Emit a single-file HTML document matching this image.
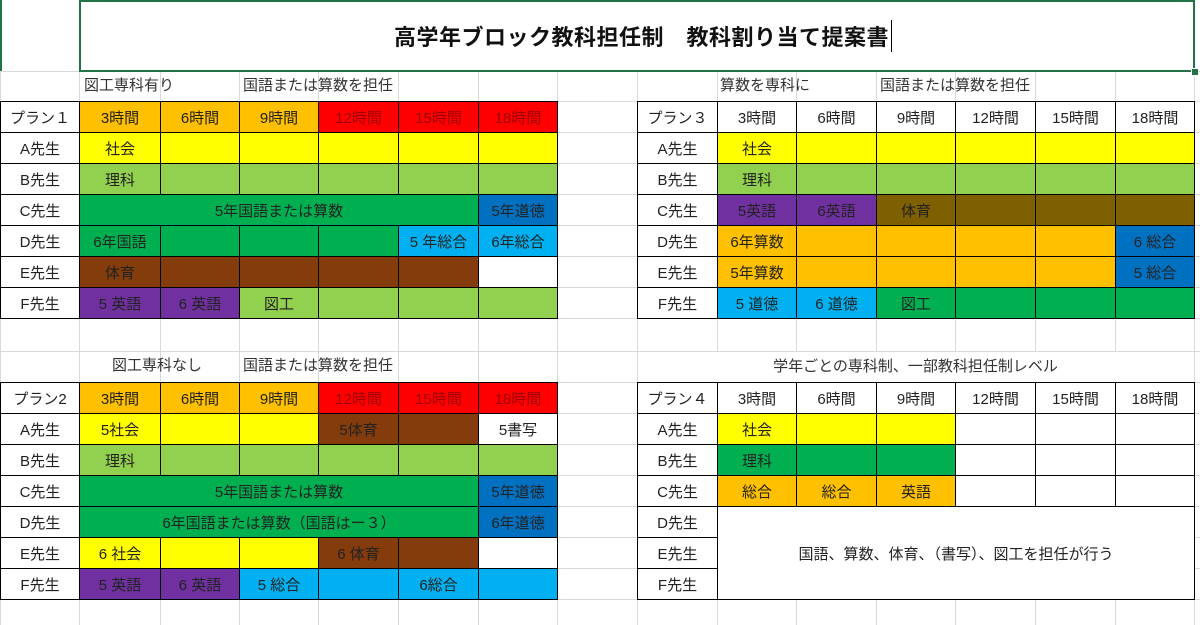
<!DOCTYPE html>
<html><head><meta charset="utf-8">
<style>
html,body{margin:0;padding:0;background:#fff;}
#sheet{position:relative;width:1200px;height:625px;overflow:hidden;font-family:"Liberation Sans","Noto Sans CJK JP",sans-serif;color:#222;}
.c{position:absolute;box-sizing:border-box;display:flex;align-items:center;justify-content:center;font-size:15px;white-space:nowrap;}
.g{position:absolute;background:#d9d9d9;}
.t{position:absolute;font-size:15px;white-space:nowrap;line-height:30px;color:#333;}
</style></head>
<body>
<div id="sheet"></div>
<script>
const X=[0,79,160,239,318,398,478,557,637,717,796,876,955,1035,1115,1194];
const YU=[71,101,132,163,194,225,256,287,318];
const YL=[351,382,413,444,475,506,537,568,599];
const GRIDY=[71,101,132,163,194,225,256,287,318,351,382,413,444,475,506,537,568,599];
const COL={o:'#FFC000',r:'#FF0000',y:'#FFFF00',lg:'#92D050',g:'#00B050',db:'#0070C0',lb:'#00B0F0',br:'#843C0C',ol:'#7F6000',p:'#7030A0',w:'#FFFFFF'};
const sheet=document.getElementById('sheet');

// background grid
for(const x of X){
  const d=document.createElement('div');d.className='g';
  
  
  d.style.cssText=`left:${x}px;top:71px;width:1px;height:554px`;sheet.appendChild(d);
}
for(const y of GRIDY){
  const d=document.createElement('div');d.className='g';
  
  
  d.style.cssText=`left:0;top:${y}px;width:1200px;height:1px`;sheet.appendChild(d);
}

function cell(x0,x1,y0,y1,bg,text,name,border,color){
  const d=document.createElement('div');d.className='c';
  
  
  d.style.left=x0+'px';d.style.top=y0+'px';
  d.style.width=(x1-x0+1)+'px';d.style.height=(y1-y0+1)+'px';
  d.style.background=bg;
  d.style.border=border===false?'none':'1px solid #000';
  if(color)d.style.color=color;
  d.textContent=text||'';sheet.appendChild(d);
}
function label(x,y,text,name){
  const d=document.createElement('div');d.className='t';
  
  
  d.style.left=x+'px';d.style.top=y+'px';d.textContent=text;sheet.appendChild(d);
}

// row spec: array of [span, colorKey, text]
function table(c0,Y,planName,headCols,rows,prefix){
  const hours=['3時間','6時間','9時間','12時間','15時間','18時間'];
  cell(X[c0],X[c0+1],Y[1],Y[2],'#fff',planName,prefix+'-plan-label');
  for(let i=0;i<6;i++){
    const k=headCols[i];
    cell(X[c0+1+i],X[c0+2+i],Y[1],Y[2],COL[k],hours[i],prefix+'-hour-header',true,k==='r'?'#9a0000':null);
  }
  const teachers=['A先生','B先生','C先生','D先生','E先生','F先生'];
  for(let r=0;r<6;r++){
    cell(X[c0],X[c0+1],Y[2+r],Y[3+r],'#fff',teachers[r],prefix+'-teacher-label');
    let c=c0+1;
    for(const [span,k,txt] of rows[r]){
      cell(X[c],X[c+span],Y[2+r],Y[3+r],COL[k],txt,prefix+'-assignment-cell');
      c+=span;
    }
  }
}

table(0,YU,'プラン１',['o','o','o','r','r','r'],[
 [[1,'y','社会'],[1,'y',''],[1,'y',''],[1,'y',''],[1,'y',''],[1,'y','']],
 [[1,'lg','理科'],[1,'lg',''],[1,'lg',''],[1,'lg',''],[1,'lg',''],[1,'lg','']],
 [[5,'g','5年国語または算数'],[1,'db','5年道徳']],
 [[1,'g','6年国語'],[1,'g',''],[1,'g',''],[1,'g',''],[1,'lb','5 年総合'],[1,'lb','6年総合']],
 [[1,'br','体育'],[1,'br',''],[1,'br',''],[1,'br',''],[1,'br',''],[1,'w','']],
 [[1,'p','5 英語'],[1,'p','6 英語'],[1,'lg','図工'],[1,'lg',''],[1,'lg',''],[1,'lg','']]
],'plan1');
label(84,71,'図工専科有り','plan1-subtitle');
label(243,71,'国語または算数を担任','plan1-note');

table(8,YU,'プラン３',['w','w','w','w','w','w'],[
 [[1,'y','社会'],[1,'y',''],[1,'y',''],[1,'y',''],[1,'y',''],[1,'y','']],
 [[1,'lg','理科'],[1,'lg',''],[1,'lg',''],[1,'lg',''],[1,'lg',''],[1,'lg','']],
 [[1,'p','5英語'],[1,'p','6英語'],[1,'ol','体育'],[1,'ol',''],[1,'ol',''],[1,'ol','']],
 [[1,'o','6年算数'],[1,'o',''],[1,'o',''],[1,'o',''],[1,'o',''],[1,'db','6 総合']],
 [[1,'o','5年算数'],[1,'o',''],[1,'o',''],[1,'o',''],[1,'o',''],[1,'db','5 総合']],
 [[1,'lb','5 道徳'],[1,'lb','6 道徳'],[1,'g','図工'],[1,'g',''],[1,'g',''],[1,'g','']]
],'plan3');
label(720,71,'算数を専科に','plan3-subtitle');
label(880,71,'国語または算数を担任','plan3-note');

table(0,YL,'プラン2',['o','o','o','r','r','r'],[
 [[1,'y','5社会'],[1,'y',''],[1,'y',''],[1,'br','5体育'],[1,'br',''],[1,'w','5書写']],
 [[1,'lg','理科'],[1,'lg',''],[1,'lg',''],[1,'lg',''],[1,'lg',''],[1,'lg','']],
 [[5,'g','5年国語または算数'],[1,'db','5年道徳']],
 [[5,'g','6年国語または算数（国語はー３）'],[1,'db','6年道徳']],
 [[1,'y','6 社会'],[1,'y',''],[1,'y',''],[1,'br','6 体育'],[1,'br',''],[1,'w','']],
 [[1,'p','5 英語'],[1,'p','6 英語'],[1,'lb','5 総合'],[1,'lb',''],[1,'lb','6総合'],[1,'lb','']]
],'plan2');
label(112,351,'図工専科なし','plan2-subtitle');
label(243,351,'国語または算数を担任','plan2-note');

// plan4 subtitle row white background
(function(){const d=document.createElement('div');


d.style.cssText='position:absolute;left:638px;top:352px;width:556px;height:30px;background:#fff';sheet.appendChild(d);})();
table(8,YL,'プラン４',['w','w','w','w','w','w'],[
 [[1,'y','社会'],[1,'y',''],[1,'y',''],[1,'w',''],[1,'w',''],[1,'w','']],
 [[1,'g','理科'],[1,'g',''],[1,'g',''],[1,'w',''],[1,'w',''],[1,'w','']],
 [[1,'o','総合'],[1,'o','総合'],[1,'o','英語'],[1,'w',''],[1,'w',''],[1,'w','']],
 [],[],[]
],'plan4');
cell(X[9],X[15],YL[5],YL[8],'#fff','国語、算数、体育、（書写）、図工を担任が行う','plan4-homeroom-note');
(function(){const d=document.createElement('div');d.className='t';


d.style.cssText='left:637px;top:351px;width:557px;text-align:center;font-size:15px;line-height:31px';
d.textContent='学年ごとの専科制、一部教科担任制レベル';sheet.appendChild(d);})();

// title
(function(){
const b=document.createElement('div');


b.style.cssText='position:absolute;left:79px;top:0;width:1116px;height:72px;box-sizing:border-box;border:2px solid #217346;background:#fff;display:flex;align-items:center;justify-content:center;';
const s=document.createElement('span');


s.style.cssText='font-size:22px;font-weight:bold;color:#111;letter-spacing:0.5px;border-right:1px solid #000;padding-right:2px;margin-left:12px;';
s.textContent='高学年ブロック教科担任制　教科割り当て提案書';
b.appendChild(s);sheet.appendChild(b);
const h=document.createElement('div');


h.style.cssText='position:absolute;left:1191px;top:68px;width:6px;height:6px;background:#217346;border:1px solid #fff';
sheet.appendChild(h);
const l=document.createElement('div');


l.style.cssText='position:absolute;left:0;top:0;width:2px;height:71px;background:#217346';
sheet.appendChild(l);
})();
</script>
</body></html>
